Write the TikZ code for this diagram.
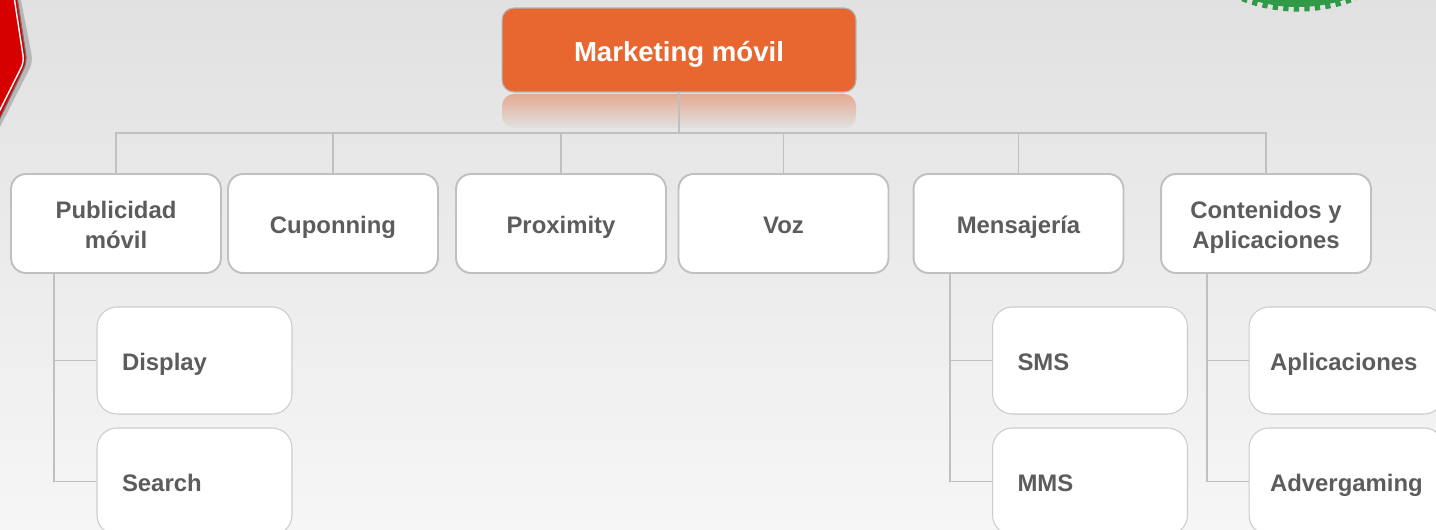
\documentclass[tikz,border=0pt]{standalone}
\usepackage{fontspec}
\setmainfont{Liberation Sans}
\usepackage{xcolor}
\usepackage{tikz}
\usetikzlibrary{arrows.meta}
\usetikzlibrary{shapes,arrows}
\definecolor{bgtop}{RGB}{225,225,225}
\definecolor{bgbot}{RGB}{246,246,246}
\definecolor{naranja}{RGB}{232,103,48}
\definecolor{linea}{RGB}{192,192,192}
\definecolor{texto}{RGB}{92,92,92}
\definecolor{rojo}{RGB}{214,0,0}
\definecolor{verde}{RGB}{48,154,72}
\tikzstyle{mainbox} = [draw=black!30, fill=naranja, rounded corners=0.24cm, line width=0.6pt, minimum width=7.08cm, minimum height=1.68cm, text height=16.2pt, text depth=3pt, text=white, font=\bfseries\fontsize{15.7}{19}\selectfont]
\tikzstyle{catbox} = [draw=linea, fill=white, rounded corners=0.3cm, line width=1.1pt, minimum width=4.2cm, minimum height=1.98cm, align=center, text height=14.4pt, text depth=3pt, text=texto, font=\bfseries\fontsize{13.6}{17}\selectfont]
\tikzstyle{twoline} = [text height=31.4pt, text depth=3pt]
\tikzstyle{subbox} = [draw=black!20, fill=white, rounded corners=0.4cm, line width=0.6pt, text width=2.9cm, inner xsep=0.5cm, minimum height=2.14cm, align=left, text height=14.4pt, text depth=3pt, text=texto, font=\bfseries\fontsize{13.6}{17}\selectfont]
\tikzstyle{link} = [draw=linea, line width=1.1pt]

\begin{document}
\begin{tikzpicture}[x=0.02cm, y=-0.02cm]
    \useasboundingbox (0,0) rectangle (1436,530);
    \clip (0,0) rectangle (1436,530);
    \shade[top color=bgtop, bottom color=bgbot] (0,0) rectangle (1436,530);

    % corner shapes
    \fill[black!45, opacity=0.5, rounded corners=0.15cm] (-30,-10) -- (19,-10) -- (33,62) -- (-4,135) -- (-30,135) -- cycle;
    \draw[fill=rojo, draw=black!55, line width=0.6pt, rounded corners=0.15cm] (-30,-10) -- (16,-10) -- (27,62) -- (-8,135) -- (-30,135) -- cycle;
    \draw[white, line width=0.8pt, rounded corners=0.12cm] (13,-10) -- (24,62) -- (-10,130);
    \fill[verde] (1298,-146) circle (153);
    \draw[verde, line width=3pt, dash pattern=on 3pt off 3pt] (1298,-146) circle (155);

    % root
    \shade[top color=naranja!45!bgtop, bottom color=bgtop, rounded corners=0.24cm] (502,94) rectangle (856,128);
    \node[mainbox] (root) at (679,50) {Marketing móvil};

    % categorias
    \node[catbox, twoline] (pub) at (116,223.5) {Publicidad\\móvil};
    \node[catbox] (cup) at (333,223.5) {Cuponning};
    \node[catbox] (prox) at (561,223.5) {Proximity};
    \node[catbox] (voz) at (783.5,223.5) {Voz};
    \node[catbox] (mens) at (1018.5,223.5) {Mensajería};
    \node[catbox, twoline] (cont) at (1266,223.5) {Contenidos y\\Aplicaciones};

    \node[subbox] (disp) at (194.5,360.5) {Display};
    \node[subbox] (srch) at (194.5,481.5) {Search};
    \node[subbox] (sms) at (1090,360.5) {SMS};
    \node[subbox] (mms) at (1090,481.5) {MMS};
    \node[subbox, inner xsep=0.42cm, text width=3.06cm] (apps) at (1346.5,360.5) {Aplicaciones};
    \node[subbox, inner xsep=0.42cm, text width=3.06cm] (adv) at (1346.5,481.5) {Advergaming};

    \coordinate (bus) at (679,133);
    \draw[link] (root.south) -- (bus);
    \foreach \n in {pub,cup,prox,voz,mens,cont}
        \draw[link] (bus) -| (\n.north);

    \coordinate (pubdrop) at (54,273);
    \coordinate (mensdrop) at (950,273);
    \coordinate (contdrop) at (1207,273);
    \draw[link] (pubdrop) |- (srch.west);
    \draw[link] (pubdrop |- disp.west) -- (disp.west);
    \draw[link] (mensdrop) |- (mms.west);
    \draw[link] (mensdrop |- sms.west) -- (sms.west);
    \draw[link] (contdrop) |- (adv.west);
    \draw[link] (contdrop |- apps.west) -- (apps.west);
\end{tikzpicture}
\end{document}
